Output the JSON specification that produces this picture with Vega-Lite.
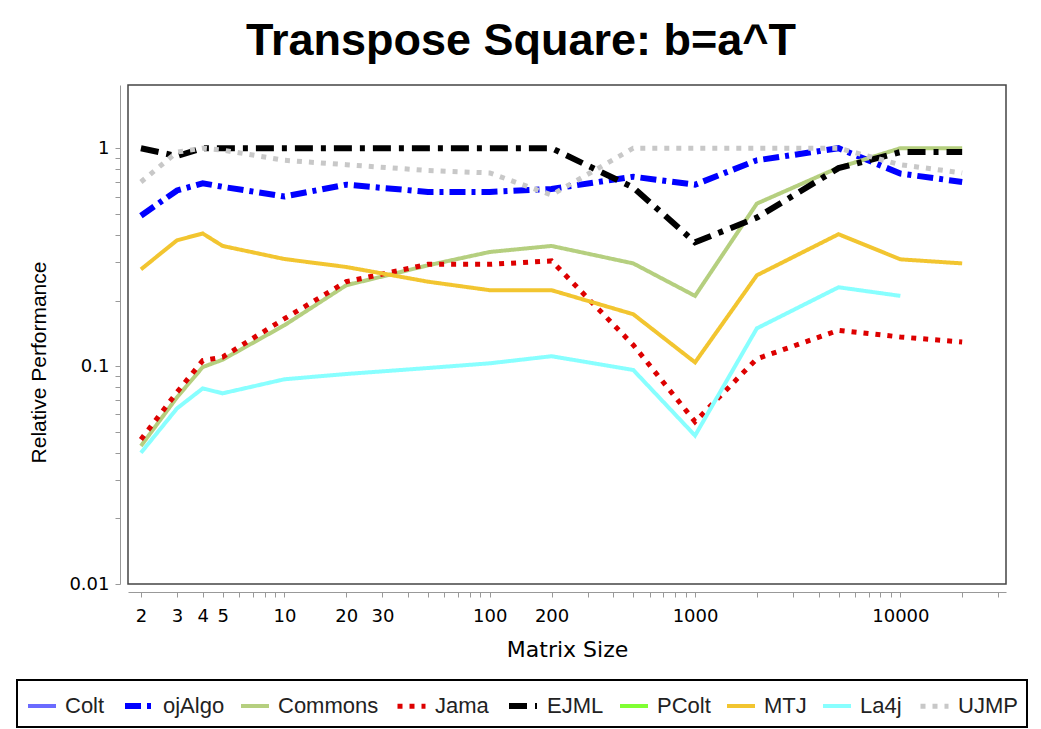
{
  "$schema": "https://vega.github.io/schema/vega-lite/v6.json",
  "width": 878,
  "height": 499,
  "autosize": {"type": "none"},
  "padding": {"left": 128, "top": 85, "right": 35, "bottom": 145},
  "background": "white",
  "title": {
    "text": "Transpose Square: b=a^T",
    "font": "Liberation Sans",
    "fontSize": 45,
    "fontWeight": "bold",
    "color": "black",
    "anchor": "middle",
    "frame": "group",
    "dx": -46,
    "baseline": "alphabetic",
    "offset": -15
  },
  "config": {
    "view": {"stroke": "#444", "strokeWidth": 1.5},
    "axis": {
      "domainColor": "#999",
      "tickColor": "#999",
      "grid": false,
      "labelFont": "DejaVu Sans",
      "labelFontSize": 18,
      "labelColor": "black",
      "titleFont": "Liberation Sans",
      "titleFontWeight": "normal",
      "titleColor": "black"
    }
  },
  "data": {
    "values": [
      {"library": "ojAlgo", "size": 2, "perf": 0.49},
      {"library": "ojAlgo", "size": 3, "perf": 0.64},
      {"library": "ojAlgo", "size": 4, "perf": 0.69},
      {"library": "ojAlgo", "size": 5, "perf": 0.665},
      {"library": "ojAlgo", "size": 10, "perf": 0.6},
      {"library": "ojAlgo", "size": 20, "perf": 0.68},
      {"library": "ojAlgo", "size": 50, "perf": 0.63},
      {"library": "ojAlgo", "size": 100, "perf": 0.63},
      {"library": "ojAlgo", "size": 200, "perf": 0.65},
      {"library": "ojAlgo", "size": 500, "perf": 0.74},
      {"library": "ojAlgo", "size": 1000, "perf": 0.68},
      {"library": "ojAlgo", "size": 2000, "perf": 0.88},
      {"library": "ojAlgo", "size": 5000, "perf": 1.0},
      {"library": "ojAlgo", "size": 10000, "perf": 0.765},
      {"library": "ojAlgo", "size": 20000, "perf": 0.7},
      {"library": "Commons", "size": 2, "perf": 0.043},
      {"library": "Commons", "size": 3, "perf": 0.072},
      {"library": "Commons", "size": 4, "perf": 0.099},
      {"library": "Commons", "size": 5, "perf": 0.107},
      {"library": "Commons", "size": 10, "perf": 0.154},
      {"library": "Commons", "size": 20, "perf": 0.235},
      {"library": "Commons", "size": 50, "perf": 0.29},
      {"library": "Commons", "size": 100, "perf": 0.334},
      {"library": "Commons", "size": 200, "perf": 0.356},
      {"library": "Commons", "size": 500, "perf": 0.296},
      {"library": "Commons", "size": 1000, "perf": 0.21},
      {"library": "Commons", "size": 2000, "perf": 0.557},
      {"library": "Commons", "size": 5000, "perf": 0.815},
      {"library": "Commons", "size": 10000, "perf": 1.0},
      {"library": "Commons", "size": 20000, "perf": 1.0},
      {"library": "Jama", "size": 2, "perf": 0.046},
      {"library": "Jama", "size": 3, "perf": 0.076},
      {"library": "Jama", "size": 4, "perf": 0.106},
      {"library": "Jama", "size": 5, "perf": 0.11},
      {"library": "Jama", "size": 10, "perf": 0.165},
      {"library": "Jama", "size": 20, "perf": 0.244},
      {"library": "Jama", "size": 50, "perf": 0.293},
      {"library": "Jama", "size": 100, "perf": 0.293},
      {"library": "Jama", "size": 200, "perf": 0.304},
      {"library": "Jama", "size": 500, "perf": 0.125},
      {"library": "Jama", "size": 1000, "perf": 0.0556},
      {"library": "Jama", "size": 2000, "perf": 0.108},
      {"library": "Jama", "size": 5000, "perf": 0.146},
      {"library": "Jama", "size": 10000, "perf": 0.136},
      {"library": "Jama", "size": 20000, "perf": 0.129},
      {"library": "EJML", "size": 2, "perf": 1.0},
      {"library": "EJML", "size": 3, "perf": 0.92},
      {"library": "EJML", "size": 4, "perf": 1.0},
      {"library": "EJML", "size": 5, "perf": 1.0},
      {"library": "EJML", "size": 10, "perf": 1.0},
      {"library": "EJML", "size": 20, "perf": 1.0},
      {"library": "EJML", "size": 50, "perf": 1.0},
      {"library": "EJML", "size": 100, "perf": 1.0},
      {"library": "EJML", "size": 200, "perf": 1.0},
      {"library": "EJML", "size": 500, "perf": 0.66},
      {"library": "EJML", "size": 1000, "perf": 0.37},
      {"library": "EJML", "size": 2000, "perf": 0.48},
      {"library": "EJML", "size": 5000, "perf": 0.81},
      {"library": "EJML", "size": 10000, "perf": 0.96},
      {"library": "EJML", "size": 20000, "perf": 0.96},
      {"library": "MTJ", "size": 2, "perf": 0.278},
      {"library": "MTJ", "size": 3, "perf": 0.378},
      {"library": "MTJ", "size": 4, "perf": 0.406},
      {"library": "MTJ", "size": 5, "perf": 0.356},
      {"library": "MTJ", "size": 10, "perf": 0.31},
      {"library": "MTJ", "size": 20, "perf": 0.285},
      {"library": "MTJ", "size": 50, "perf": 0.244},
      {"library": "MTJ", "size": 100, "perf": 0.223},
      {"library": "MTJ", "size": 200, "perf": 0.223},
      {"library": "MTJ", "size": 500, "perf": 0.173},
      {"library": "MTJ", "size": 1000, "perf": 0.104},
      {"library": "MTJ", "size": 2000, "perf": 0.261},
      {"library": "MTJ", "size": 5000, "perf": 0.403},
      {"library": "MTJ", "size": 10000, "perf": 0.309},
      {"library": "MTJ", "size": 20000, "perf": 0.296},
      {"library": "La4j", "size": 2, "perf": 0.04},
      {"library": "La4j", "size": 3, "perf": 0.064},
      {"library": "La4j", "size": 4, "perf": 0.079},
      {"library": "La4j", "size": 5, "perf": 0.075},
      {"library": "La4j", "size": 10, "perf": 0.087},
      {"library": "La4j", "size": 20, "perf": 0.092},
      {"library": "La4j", "size": 50, "perf": 0.098},
      {"library": "La4j", "size": 100, "perf": 0.103},
      {"library": "La4j", "size": 200, "perf": 0.111},
      {"library": "La4j", "size": 500, "perf": 0.096},
      {"library": "La4j", "size": 1000, "perf": 0.048},
      {"library": "La4j", "size": 2000, "perf": 0.149},
      {"library": "La4j", "size": 5000, "perf": 0.23},
      {"library": "La4j", "size": 10000, "perf": 0.21},
      {"library": "UJMP", "size": 2, "perf": 0.7},
      {"library": "UJMP", "size": 3, "perf": 0.96},
      {"library": "UJMP", "size": 4, "perf": 1.0},
      {"library": "UJMP", "size": 5, "perf": 0.98},
      {"library": "UJMP", "size": 10, "perf": 0.88},
      {"library": "UJMP", "size": 20, "perf": 0.84},
      {"library": "UJMP", "size": 50, "perf": 0.79},
      {"library": "UJMP", "size": 100, "perf": 0.77},
      {"library": "UJMP", "size": 200, "perf": 0.61},
      {"library": "UJMP", "size": 500, "perf": 1.0},
      {"library": "UJMP", "size": 1000, "perf": 1.0},
      {"library": "UJMP", "size": 2000, "perf": 1.0},
      {"library": "UJMP", "size": 5000, "perf": 1.0},
      {"library": "UJMP", "size": 10000, "perf": 0.84},
      {"library": "UJMP", "size": 20000, "perf": 0.77}
    ]
  },
  "mark": {"type": "line", "clip": true},
  "encoding": {
    "x": {
      "field": "size",
      "type": "quantitative",
      "scale": {"type": "log", "domain": [1.73, 32700], "nice": false},
      "axis": {
        "title": "Matrix Size",
        "titleFont": "DejaVu Sans",
        "titleFontSize": 22,
        "titlePadding": 14,
        "offset": 8,
        "tickSize": 5,
        "labelPadding": 10,
        "labelOverlap": false,
        "labelBound": false,
        "labelFlush": false,
        "values": [2,3,4,5,6,7,8,9,10,20,30,40,50,60,70,80,90,100,200,300,400,500,600,700,800,900,1000,2000,3000,4000,5000,6000,7000,8000,9000,10000,20000,30000],
        "labelExpr": "indexof([2,3,4,5,10,20,30,100,200,1000,10000], datum.value) >= 0 ? '' + datum.value : ''"
      }
    },
    "y": {
      "field": "perf",
      "type": "quantitative",
      "scale": {"type": "log", "domain": [0.01, 1.95], "nice": false},
      "axis": {
        "title": "Relative Performance",
        "titleFontSize": 21,
        "titlePadding": 19,
        "titleY": 277,
        "offset": 8,
        "tickSize": 5,
        "labelPadding": 6,
        "labelOverlap": false,
        "labelBound": false,
        "labelFlush": false,
        "values": [0.01,0.02,0.03,0.04,0.05,0.06,0.07,0.08,0.09,0.1,0.2,0.3,0.4,0.5,0.6,0.7,0.8,0.9,1],
        "labelExpr": "datum.value == 1 ? '1' : datum.value == 0.1 ? '0.1' : datum.value == 0.01 ? '0.01' : ''"
      }
    },
    "color": {
      "field": "library",
      "type": "nominal",
      "scale": {
        "domain": ["Colt", "ojAlgo", "Commons", "Jama", "EJML", "PColt", "MTJ", "La4j", "UJMP"],
        "range": ["#6b6bff", "#0000ff", "#b5cf7f", "#dd0000", "#000000", "#80ff33", "#f2c530", "#88ffff", "#c8c8c8"]
      },
      "legend": {
        "title": null,
        "orient": "none",
        "legendX": -111,
        "legendY": 595,
        "direction": "horizontal",
        "symbolType": "stroke",
        "symbolSize": 784,
        "symbolStrokeWidth": 4,
        "labelFont": "Liberation Sans",
        "labelFontSize": 22,
        "labelColor": "#222",
        "labelOffset": 7,
        "columnPadding": 8,
        "padding": 9,
        "strokeColor": "black",
        "encode": {"legend": {"update": {"strokeWidth": {"value": 2}}}}
      }
    },
    "strokeDash": {
      "field": "library",
      "type": "nominal",
      "scale": {
        "domain": ["Colt", "ojAlgo", "Commons", "Jama", "EJML", "PColt", "MTJ", "La4j", "UJMP"],
        "range": [[1, 0], [16, 6, 4, 6], [1, 0], [5, 7], [18, 8, 5, 8], [1, 0], [1, 0], [1, 0], [5, 7]]
      },
      "legend": {
        "title": null,
        "orient": "none",
        "legendX": -111,
        "legendY": 595,
        "direction": "horizontal",
        "symbolType": "stroke",
        "symbolSize": 784,
        "symbolStrokeWidth": 4,
        "labelFont": "Liberation Sans",
        "labelFontSize": 22,
        "labelColor": "#222",
        "labelOffset": 7,
        "columnPadding": 8,
        "padding": 9,
        "strokeColor": "black",
        "encode": {"legend": {"update": {"strokeWidth": {"value": 2}}}}
      }
    },
    "strokeWidth": {
      "field": "library",
      "type": "nominal",
      "scale": {
        "type": "ordinal",
        "domain": ["Colt", "ojAlgo", "Commons", "Jama", "EJML", "PColt", "MTJ", "La4j", "UJMP"],
        "range": [4, 6, 4, 5, 6, 4, 4, 4, 5]
      },
      "legend": null
    },
    "order": {"field": "size", "type": "quantitative"}
  }
}
